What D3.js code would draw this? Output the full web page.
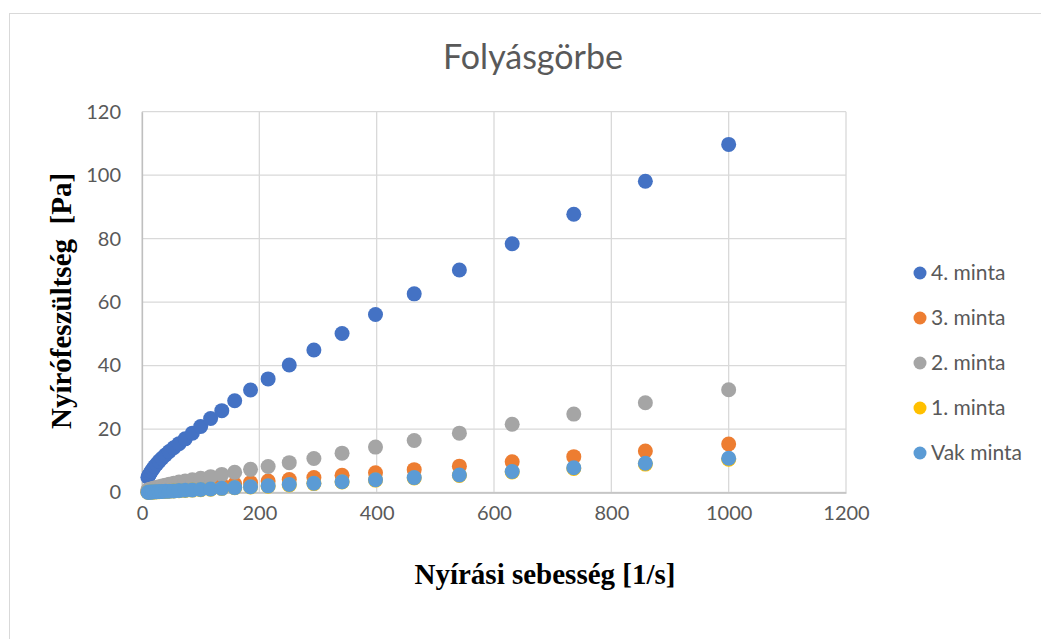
<!DOCTYPE html>
<html>
<head>
<meta charset="utf-8">
<script src="https://cdn.jsdelivr.net/npm/d3@7/dist/d3.min.js"></script>
<style>
  html, body { margin: 0; padding: 0; background: #fff; }
  svg { display: block; }
</style>
</head>
<body>
<div id="chart-container"></div>
<script>
const width = 1041;
const height = 639;
const margin = { top: 111.7, left: 142, right: 195, bottom: 146.5 };

// shear rate [1/s]
const shearRate = [10, 11.7, 13.6, 15.8, 18.5, 21.5, 25.1, 29.3, 34.1, 39.8, 46.4, 54.1, 63.1, 73.6, 85.8,
  100, 117, 136, 158, 185, 215, 251, 293, 341, 398, 464, 541, 631, 736, 858, 1000];

// shear stress [Pa]
const minta4 = [4.8, 5.4, 6.0, 6.7, 7.4, 8.2, 9.0, 9.9, 10.8, 11.8, 12.9, 14.1, 15.4, 16.9, 18.7,
  20.8, 23.3, 25.8, 28.9, 32.3, 35.8, 40.2, 44.9, 50.1, 56.1, 62.6, 70.1, 78.4, 87.7, 98.1, 109.7];
const minta3 = [0.27, 0.3, 0.35, 0.4, 0.45, 0.5, 0.58, 0.65, 0.75, 0.85, 0.95, 1.1, 1.25, 1.4, 1.6,
  1.85, 2.1, 2.4, 2.7, 3.1, 3.6, 4.1, 4.7, 5.4, 6.2, 7.2, 8.3, 9.7, 11.3, 13.1, 15.3];
const minta2 = [0.75, 0.85, 0.95, 1.1, 1.25, 1.4, 1.6, 1.8, 2.05, 2.3, 2.6, 2.9, 3.3, 3.6, 4.0,
  4.5, 5.0, 5.7, 6.4, 7.3, 8.2, 9.4, 10.7, 12.4, 14.3, 16.4, 18.7, 21.5, 24.7, 28.3, 32.4];
const minta1 = [0.08, 0.09, 0.11, 0.13, 0.15, 0.18, 0.21, 0.25, 0.29, 0.34, 0.4, 0.46, 0.55, 0.65, 0.75,
  0.9, 1.05, 1.25, 1.5, 1.75, 2.0, 2.4, 2.8, 3.3, 3.9, 4.55, 5.35, 6.45, 7.6, 8.95, 10.5];
const vakMinta = [0.1, 0.11, 0.13, 0.15, 0.18, 0.2, 0.24, 0.28, 0.32, 0.37, 0.43, 0.5, 0.6, 0.7, 0.8,
  0.95, 1.1, 1.3, 1.55, 1.8, 2.1, 2.5, 2.9, 3.4, 4.0, 4.7, 5.5, 6.6, 7.8, 9.2, 10.8];

const seriesNames = ["4. minta", "3. minta", "2. minta", "1. minta", "Vak minta"];
const seriesValues = [minta4, minta3, minta2, minta1, vakMinta];
const seriesColors = ["#4472C4", "#ED7D31", "#A5A5A5", "#FFC000", "#5B9BD5"];

const xTicks = [0, 200, 400, 600, 800, 1000, 1200];
const yTicks = [0, 20, 40, 60, 80, 100, 120];

const svg = d3.select("#chart-container").append("svg")
  .attr("width", width)
  .attr("height", height);

// chart area border
svg.append("rect")
  .attr("x", 9.5).attr("y", 13.5)
  .attr("width", width + 20).attr("height", height + 20)
  .attr("fill", "#fff")
  .attr("stroke", "#D9D9D9");

const x = d3.scaleLinear()
  .domain([0, 1200])
  .range([margin.left, width - margin.right]);

const y = d3.scaleLinear()
  .domain([0, 120])
  .range([height - margin.bottom, margin.top]);

//Gridlines
const grid = svg.append("g");
grid.selectAll(".hgrid")
  .data(yTicks)
  .enter().append("line")
  .attr("class", "hgrid")
  .attr("x1", x(0)).attr("x2", x(1200))
  .attr("y1", d => y(d)).attr("y2", d => y(d))
  .attr("stroke", "#D9D9D9")
  .attr("stroke-width", 1.3);

grid.selectAll(".vgrid")
  .data(xTicks)
  .enter().append("line")
  .attr("class", "vgrid")
  .attr("x1", d => x(d)).attr("x2", d => x(d))
  .attr("y1", y(0)).attr("y2", y(120))
  .attr("stroke", "#D9D9D9")
  .attr("stroke-width", 1.3);

//Axes
const xAxis = g => g
  .attr("transform", `translate(0,${y(0)})`)
  .call(d3.axisBottom(x).tickValues(xTicks).tickFormat(d => d).tickSize(0).tickPadding(13))
  .call(g => g.select(".domain").attr("stroke", "#BFBFBF").attr("stroke-width", 1.3));

const yAxis = g => g
  .attr("transform", `translate(${x(0)},0)`)
  .call(d3.axisLeft(y).tickValues(yTicks).tickFormat(d => d).tickSize(0).tickPadding(21))
  .call(g => g.select(".domain").attr("stroke", "#BFBFBF").attr("stroke-width", 1.3));

svg.append("g").call(xAxis);
svg.append("g").call(yAxis);

svg.selectAll(".tick text")
  .attr("fill", "#595959")
  .style("font", "20px Lato, sans-serif");

//Points, last series on top
const pts = svg.append("g");
seriesValues.forEach((vals, s) => {
  pts.append("g")
    .selectAll("circle")
    .data(vals.map((v, i) => ({ x: shearRate[i], y: v })))
    .enter().append("circle")
    .attr("cx", d => x(d.x))
    .attr("cy", d => y(d.y))
    .attr("r", 7.5)
    .attr("fill", seriesColors[s]);
});

//Titles
svg.append("text")
  .attr("x", 533).attr("y", 69)
  .attr("text-anchor", "middle")
  .attr("fill", "#595959")
  .style("font", "34px Lato, sans-serif")
  .text("Folyásgörbe");

svg.append("text")
  .attr("x", 545).attr("y", 584)
  .attr("text-anchor", "middle")
  .attr("fill", "#000")
  .style("font", "bold 29px 'Liberation Serif', serif")
  .text("Nyírási sebesség [1/s]");

svg.append("text")
  .attr("transform", "translate(71,301) rotate(-90)")
  .attr("text-anchor", "middle")
  .attr("fill", "#000")
  .style("font", "bold 29px 'Liberation Serif', serif")
  .style("white-space", "pre")
  .text("Nyírófeszültség  [Pa]");

//Legend
const legend = svg.append("g")
  .selectAll("g")
  .data(seriesNames)
  .enter().append("g")
  .attr("transform", (d, i) => `translate(920,${273 + i * 45})`);

legend.append("circle")
  .attr("r", 6.5)
  .attr("fill", (d, i) => seriesColors[i]);

legend.append("text")
  .attr("x", 11)
  .attr("dy", "0.35em")
  .attr("fill", "#595959")
  .style("font", "21px Lato, sans-serif")
  .text(d => d);
</script>
</body>
</html>
